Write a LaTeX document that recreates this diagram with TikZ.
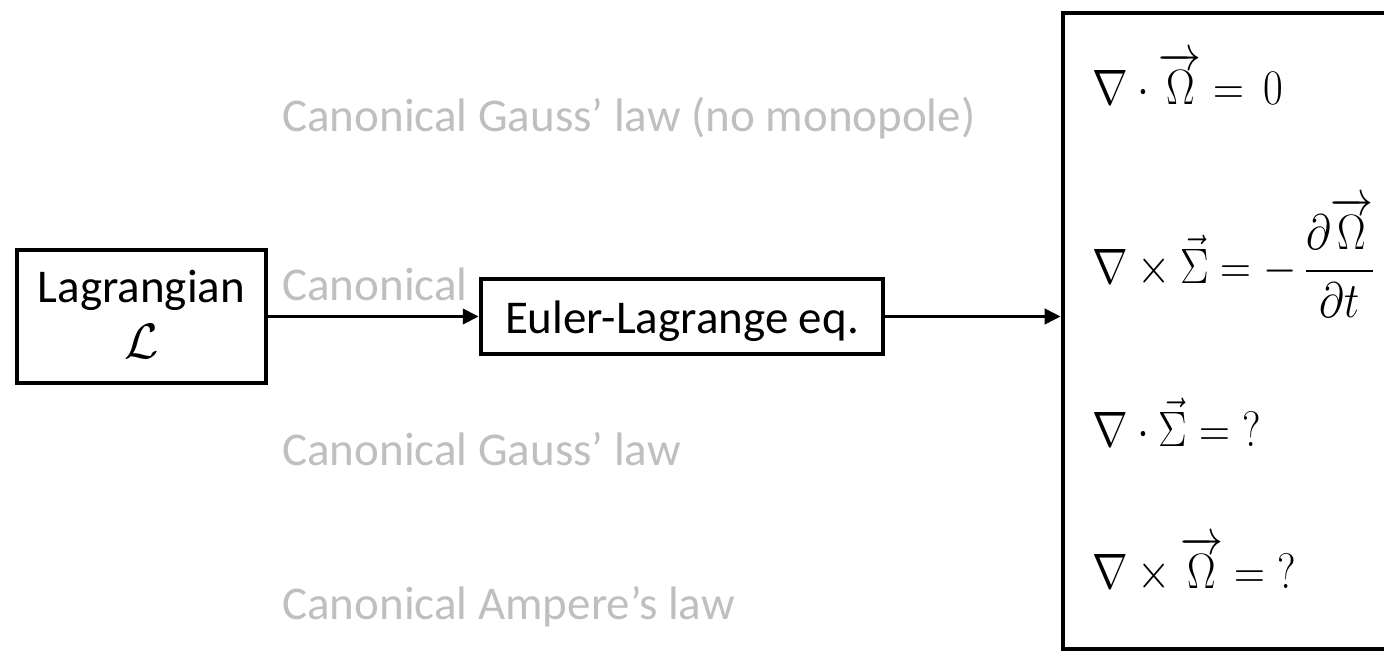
\documentclass[tikz,border=0pt]{standalone}
\usepackage{amsmath}
\usepackage{graphicx}
\usepackage[no-math]{fontspec}
\setmainfont{Carlito}
\usetikzlibrary{arrows.meta}
\definecolor{greytext}{RGB}{191,191,191}
\newcommand{\eqsq}[1]{\scalebox{0.86}[1]{$#1$}}
\begin{document}
\begin{tikzpicture}[x=0.5pt,y=-0.5pt,
  every node/.style={font=\fontsize{23.5}{28}\selectfont, inner sep=0pt},
  box/.style={draw=black, line width=2.2pt, fill=white, rectangle, inner sep=0pt},
  greylbl/.style={text=greytext, anchor=base west},
  eqn/.style={anchor=base west, font=\fontsize{24.88}{30}\selectfont},
  arr/.style={line width=1.9pt, -{Triangle[length=8pt,width=7.5pt]}}]
\useasboundingbox (0,0) rectangle (1384,653);
\clip (0,0) rectangle (1384,653);
\node[greylbl] (g1) at (282,131) {Canonical Gauss’ law (no monopole)};
\begin{scope}
  \clip (0,200) rectangle (479,400);
  \node[greylbl] (g2) at (282,300) {Canonical Faraday’s law};
\end{scope}
\node[greylbl] (g3) at (282,465) {Canonical Gauss’ law};
\node[greylbl] (g4) at (282,619) {Canonical Ampere’s law};
\node[box, minimum width=124.5pt, minimum height=66.5pt] (lag) at (141.5,316.5) {};
\node[anchor=base] (lagt) at (141.5,302) {Lagrangian};
\node[anchor=base] (lagL) at (141.5,358) {$\mathcal{L}$};
\node[box, minimum width=201pt, minimum height=37.5pt, text height=20pt, text depth=3.5pt] (el) at (682,316.5) {Euler-Lagrange eq.};
\node[box, line width=2.3pt, minimum width=178.5pt, minimum height=318pt] (eqbox) at (1241.5,331) {};
\draw[arr] (lag.east) -- (el.west);
\draw[arr] (el.east) -- (eqbox.west |- el.east);
\node[eqn] (e1) at (1092,104) {\eqsq{\nabla\cdot\overrightarrow{\Omega}=\,0}};
\node[eqn] (e2) at (1092,283) {\eqsq{\nabla\times\vec{\Sigma}=-\,\dfrac{\partial\overrightarrow{\Omega}}{\partial t}}};
\node[eqn] (e3) at (1092,446) {\eqsq{\nabla\cdot\vec{\Sigma}={?}}};
\node[eqn] (e4) at (1092,588) {\eqsq{\nabla\times\overrightarrow{\Omega}={?}}};
\end{tikzpicture}
\end{document}
